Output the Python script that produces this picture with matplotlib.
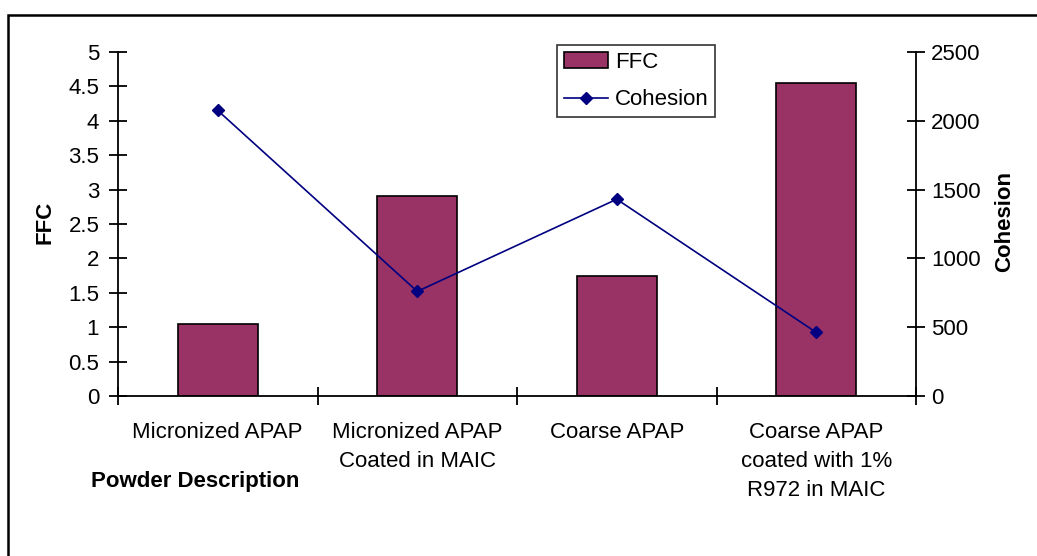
import matplotlib
matplotlib.use("Agg")
import matplotlib.pyplot as plt
from matplotlib.patches import Rectangle

categories = ["Micronized APAP", "Micronized APAP\nCoated in MAIC", "Coarse APAP",
              "Coarse APAP\ncoated with 1%\nR972 in MAIC"]
ffc = [1.05, 2.91, 1.75, 4.55]
cohesion = [2075, 760, 1430, 462]
left_ticks = [0, 0.5, 1, 1.5, 2, 2.5, 3, 3.5, 4, 4.5, 5]
left_ticklabels = ["0", "0.5", "1", "1.5", "2", "2.5", "3", "3.5", "4", "4.5", "5"]
right_ticks = [0, 500, 1000, 1500, 2000, 2500]

plt.rcParams['font.family'] = ['Liberation Sans', 'DejaVu Sans']
FS = 16

fig = plt.figure(figsize=(10.37, 5.56), dpi=100)
W, H = 1037, 556
ax = fig.add_axes([118 / W, (H - 396) / H, (916 - 118) / W, (396 - 52) / H])
x = list(range(len(categories)))
bars = ax.bar(x, ffc, width=0.4, color="#993366", edgecolor="black", linewidth=1.2, zorder=2)
ax.set_xlim(-0.5, len(categories) - 0.5)
ax.set_ylim(0, 5)
ax.set_yticks(left_ticks)
ax.set_yticklabels(left_ticklabels)
ax.spines['top'].set_visible(False)
ax.spines['right'].set_visible(False)
for s in ['left', 'bottom']:
    ax.spines[s].set_linewidth(1.3)
ax.tick_params(axis='y', direction='inout', length=13, width=1.3, labelsize=FS, pad=7)
ax.set_xticks([i - 0.5 for i in range(len(categories) + 1)], minor=False)
ax.set_xticklabels([""] * (len(categories) + 1))
ax.tick_params(axis='x', which='major', direction='inout', length=13, width=1.3)
ax.set_xticks(x, minor=True)
ax.set_xticklabels(categories, minor=True, fontsize=FS, linespacing=1.5, ha='center')
ax.tick_params(axis='x', which='minor', length=0, pad=19)

ax2 = ax.twinx()
line, = ax2.plot(x, cohesion, color="#000080", marker='D', markersize=6, linewidth=1.2, zorder=3)
ax2.set_ylim(0, 2500)
ax2.set_yticks(right_ticks)
ax2.tick_params(axis='y', direction='inout', length=13, width=1.3, labelsize=FS, pad=4.5)
ax2.spines['top'].set_visible(False)
ax2.spines['left'].set_visible(False)
ax2.spines['bottom'].set_visible(False)
ax2.spines['right'].set_linewidth(1.3)

fig.text(45 / W, (H - 222) / H, "FFC", rotation=90, fontsize=FS, fontweight='bold', ha='center', va='center')
fig.text(1005 / W, (H - 222) / H, "Cohesion", rotation=90, fontsize=FS, fontweight='bold', ha='center', va='center')
fig.text(91 / W, (H - 481) / H, "Powder Description", fontsize=FS, fontweight='bold', ha='left', va='center')

leg = ax2.legend([bars, line], ["FFC", "Cohesion"], loc='upper left',
                 bbox_to_anchor=(557 / W, (H - 45) / H), bbox_transform=fig.transFigure,
                 fontsize=FS, frameon=True, fancybox=False, edgecolor='black',
                 borderpad=0.3, handlelength=2.0, labelspacing=0.75, handletextpad=0.3,
                 borderaxespad=0)
leg.get_frame().set_linewidth(1.2)

fig.add_artist(Rectangle((8 / W, -0.2), 1.2, (H - 15) / H + 0.2, transform=fig.transFigure,
                         fill=False, edgecolor='black', linewidth=1.8))

fig.savefig("out.png", dpi=100)
